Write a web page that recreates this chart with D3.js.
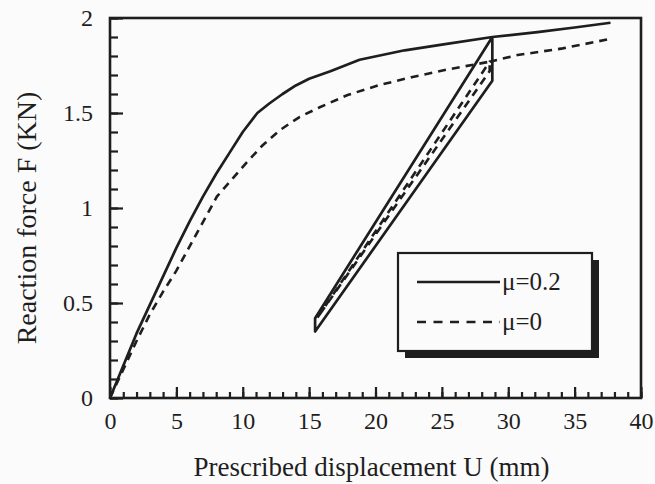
<!DOCTYPE html>
<html>
<head>
<meta charset="utf-8">
<script src="https://cdn.jsdelivr.net/npm/d3@7"></script>
<style>
  body { margin: 0; background: #fbfbfb; }
  svg { display: block; font-family: "Liberation Serif", "Times New Roman", serif; }
  .tick text { font-size: 24px; fill: #1e1e1e; }
</style>
</head>
<body>
<div id="chart"></div>
<script>
// mu = 0.2 (solid): loading, stick-drop, unloading, stick-rise, reloading, loading again
const solidU = [0, 1, 2, 3, 4, 5, 6, 7, 8, 9, 10, 11.1, 12, 13, 14, 15, 16.6, 18.8, 22.2, 25, 28.8,
                28.8, 15.45, 15.45, 28.8, 32.2, 35, 37.7];
const solidF = [0, 0.17, 0.34, 0.49, 0.64, 0.79, 0.93, 1.06, 1.18, 1.29, 1.40, 1.50, 1.55, 1.60, 1.645, 1.68, 1.72, 1.78, 1.83, 1.86, 1.90,
                1.67, 0.35, 0.42, 1.90, 1.926, 1.95, 1.975];

// mu = 0 (dashed)
const dashU = [0, 1, 2, 3, 4, 5, 6.25, 8.05, 10.3, 11.5, 12.8, 14.3, 15.8, 17.9, 20.3, 22.8, 25.5, 28.6,
               28.6, 15.6, 28.6, 30.7, 34.1, 37.7];
const dashF = [0, 0.15, 0.3, 0.44, 0.56, 0.67, 0.83, 1.06, 1.24, 1.33, 1.41, 1.48, 1.53, 1.595, 1.647, 1.69, 1.73, 1.77,
               1.72, 0.42, 1.77, 1.805, 1.84, 1.89];

const xTicks = [0, 5, 10, 15, 20, 25, 30, 35, 40];
const yTicks = [0, 0.5, 1, 1.5, 2];
const legendLabels = ['\u03bc=0.2', '\u03bc=0'];

const W = 655, H = 484;
const margin = { left: 110, right: 14, top: 18, bottom: 86 };
const ink = '#1e1e1e';

const svg = d3.select('#chart').append('svg')
    .attr('width', W)
    .attr('height', H);

const x = d3.scaleLinear().domain([0, 40]).range([margin.left, W - margin.right]);
const y = d3.scaleLinear().domain([0, 2]).range([H - margin.bottom, margin.top]);

function styleAxis(g) {
    g.attr('font-family', null).attr('font-size', null);
    g.select('.domain').remove();
    g.selectAll('line').attr('stroke', ink).attr('stroke-width', 2.2);
}

// minor ticks
svg.append('g')
    .attr('transform', `translate(0,${y(0)})`)
    .call(d3.axisBottom(x).tickValues(d3.range(0, 41, 1)).tickSize(-6).tickFormat(''))
    .call(styleAxis);

svg.append('g')
    .attr('transform', `translate(${x(0)},0)`)
    .call(d3.axisLeft(y).tickValues(d3.range(0, 2.01, 0.1)).tickSize(-8).tickFormat(''))
    .call(styleAxis);

// major ticks
svg.append('g')
    .attr('transform', `translate(0,${y(0)})`)
    .call(d3.axisBottom(x).tickValues(xTicks).tickSize(-11).tickPadding(14).tickFormat(d3.format('d')))
    .call(styleAxis);

svg.append('g')
    .attr('transform', `translate(${x(0)},0)`)
    .call(d3.axisLeft(y).tickValues(yTicks).tickSize(-13).tickPadding(17).tickFormat(d => d))
    .call(styleAxis);

// frame
svg.append('rect')
    .attr('x', x(0))
    .attr('y', y(2))
    .attr('width', x(40) - x(0))
    .attr('height', y(0) - y(2))
    .attr('fill', 'none')
    .attr('stroke', ink)
    .attr('stroke-width', 2.6);

const line = d3.line().x(d => x(d[0])).y(d => y(d[1]));

svg.append('path')
    .datum(d3.zip(solidU, solidF))
    .attr('d', line)
    .attr('fill', 'none')
    .attr('stroke', ink)
    .attr('stroke-width', 2.7)
    .attr('stroke-linejoin', 'round');

svg.append('path')
    .datum(d3.zip(dashU, dashF))
    .attr('d', line)
    .attr('fill', 'none')
    .attr('stroke', ink)
    .attr('stroke-width', 2.6)
    .attr('stroke-dasharray', '8,6');

// legend
const lg = svg.append('g').attr('transform', 'translate(398,253)');
lg.append('rect')
    .attr('x', 7).attr('y', 7)
    .attr('width', 194).attr('height', 98)
    .attr('fill', ink);
lg.append('rect')
    .attr('width', 194).attr('height', 98)
    .attr('fill', '#fbfbfb')
    .attr('stroke', ink)
    .attr('stroke-width', 2.2);

legendLabels.forEach((t, i) => {
    const ly = 29 + i * 40;
    lg.append('line')
        .attr('x1', 19).attr('x2', 102)
        .attr('y1', ly).attr('y2', ly)
        .attr('stroke', ink)
        .attr('stroke-width', 2.4)
        .attr('stroke-dasharray', i === 1 ? '9,7.5' : null);
    lg.append('text')
        .attr('x', 104).attr('y', ly + 8)
        .attr('font-size', 25)
        .attr('fill', ink)
        .text(t);
});

// axis titles
svg.append('text')
    .attr('x', (x(0) + x(40)) / 2 - 4)
    .attr('y', 476)
    .attr('text-anchor', 'middle')
    .attr('font-size', 27)
    .attr('fill', ink)
    .text('Prescribed displacement U (mm)');

svg.append('text')
    .attr('transform', 'translate(36,218) rotate(-90)')
    .attr('text-anchor', 'middle')
    .attr('font-size', 28)
    .attr('fill', ink)
    .text('Reaction force F (KN)');
</script>
</body>
</html>
